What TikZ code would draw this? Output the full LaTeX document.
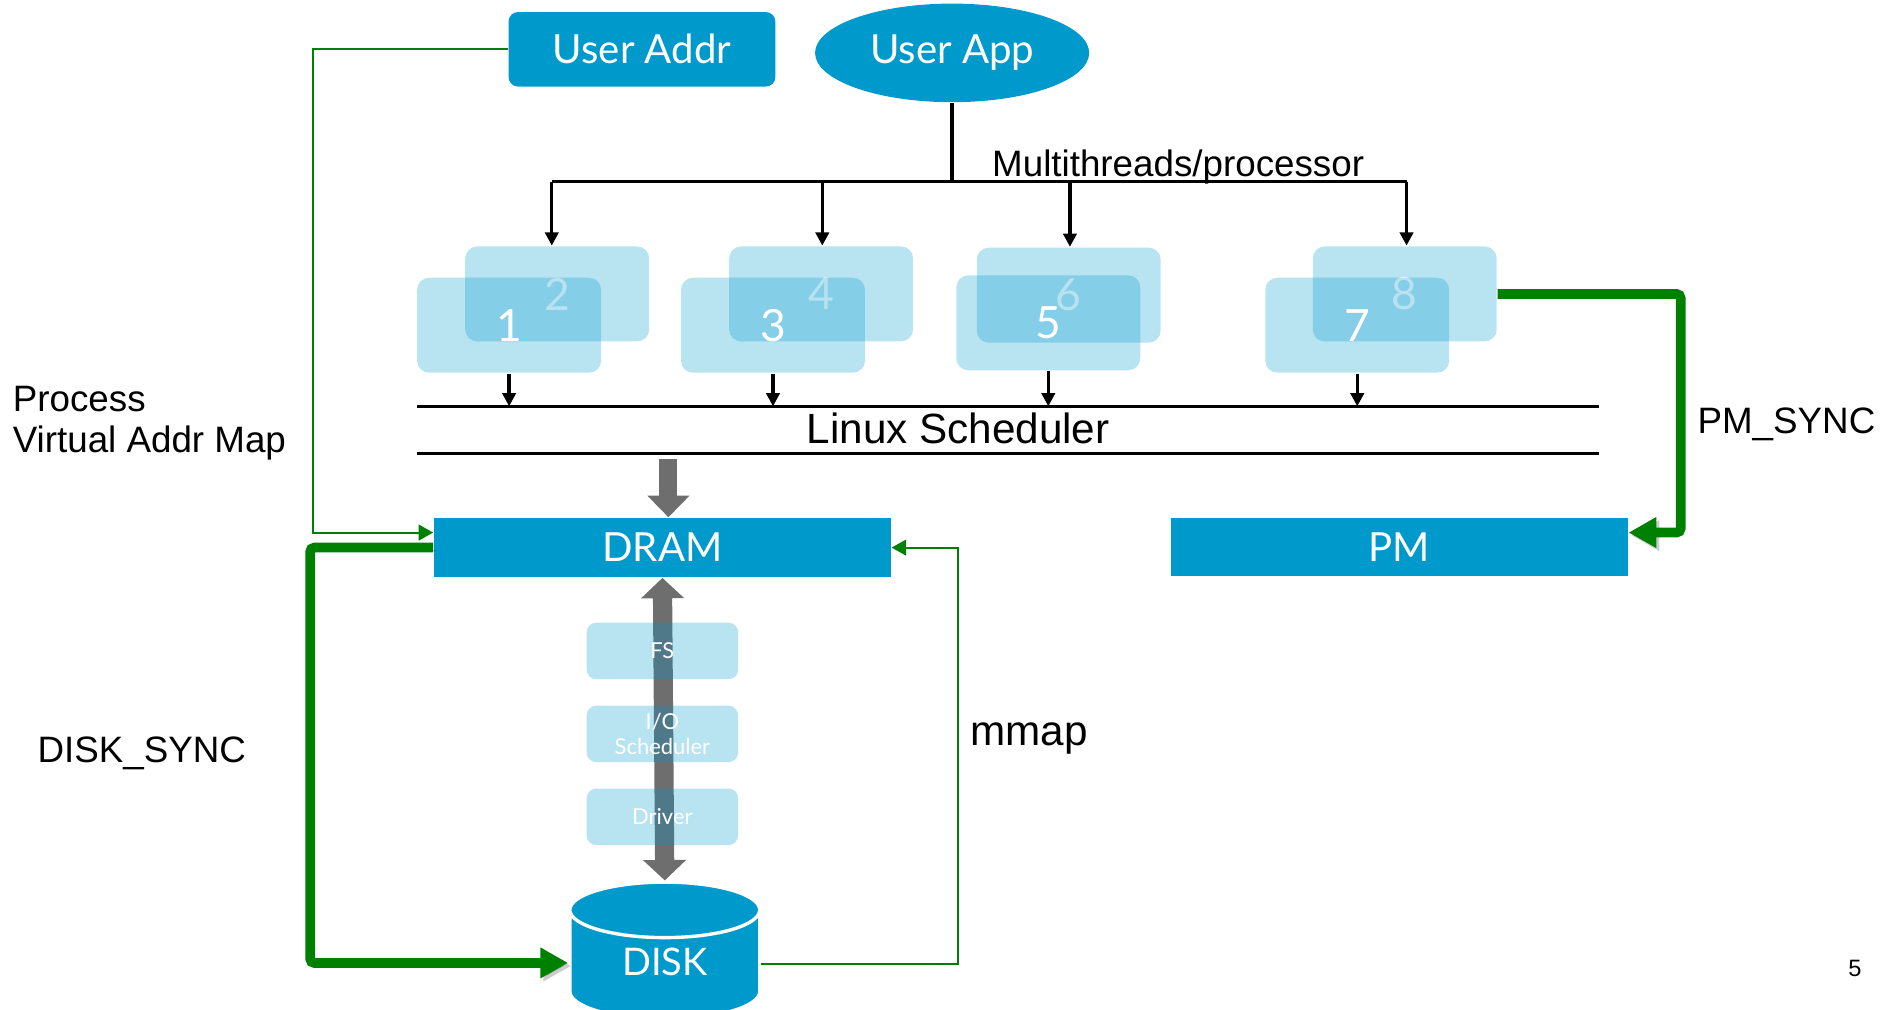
\documentclass[tikz,border=0pt]{standalone}
\usepackage{fontspec}
\setmainfont{Liberation Sans}
\newfontfamily\gillfont{Lato}
\usetikzlibrary{arrows.meta,positioning,shapes.geometric}
\definecolor{slideblue}{RGB}{0,153,204}
\definecolor{linkgreen}{RGB}{0,128,0}
\definecolor{pipegray}{RGB}{110,110,110}

\begin{document}
\begin{tikzpicture}[
  every node/.style={font=\fontsize{8.7}{9.8}\selectfont},
  bluebox/.style={
    fill=slideblue,
    text=white,
    inner sep=0pt,
    font=\gillfont\fontsize{9.5}{11}\selectfont
  },
  thread/.style={
    fill=slideblue,
    fill opacity=0.28,
    text opacity=1,
    text=white,
    rounded corners=0.1cm,
    minimum width=1.53cm,
    minimum height=0.79cm,
    inner sep=0pt,
    font=\gillfont\fontsize{10.5}{12}\selectfont
  },
  layer/.style={
    fill=slideblue,
    fill opacity=0.28,
    text opacity=1,
    text=white,
    rounded corners=0.08cm,
    minimum width=1.26cm,
    minimum height=0.47cm,
    inner sep=0pt,
    align=center,
    font=\gillfont\fontsize{5.2}{6}\selectfont
  },
  bus/.style={line width=0.8pt},
  down/.style={-{Triangle[length=1.1mm,width=1.1mm]},line width=0.8pt},
  pipe/.style={pipegray,line width=0.15cm,-{Triangle[length=0.18cm,width=0.34cm]}},
  link/.style={linkgreen,line width=0.5pt,-{Triangle[length=1.2mm,width=1.3mm]}},
  sync/.style={
    linkgreen,
    line width=2.3pt,
    rounded corners=1pt,
    -{Triangle[length=2.3mm,width=2.4mm]},
    preaction={draw=black,opacity=0.2,transform canvas={shift={(0.025,-0.025)}}}
  }
]
\useasboundingbox (0,0) rectangle (15.68,-8.40);

% top: address and application
\node[bluebox,rounded corners=0.08cm,minimum width=2.22cm,minimum height=0.62cm] (useraddr) at (5.34,-0.41) {User Addr};
\node[bluebox,ellipse,minimum width=2.28cm,minimum height=0.82cm] (userapp) at (7.92,-0.44) {User App};

% threads
\coordinate (b1) at (4.59,-1.51);
\coordinate (b2) at (6.84,-1.51);
\coordinate (b3) at (8.90,-1.51);
\coordinate (b4) at (11.70,-1.51);
\node (mt) at (9.80,-1.39) {Multithreads/processor};
\node[thread] (t2) at (4.635,-2.445) {2};
\node[thread] (t1) at (4.235,-2.705) {1};
\node[thread] (t4) at (6.83,-2.445) {4};
\node[thread] (t3) at (6.43,-2.705) {3};
\node[thread] (t6) at (8.89,-2.455) {6};
\node[thread] (t5) at (8.72,-2.685) {5};
\node[thread] (t8) at (11.685,-2.445) {8};
\node[thread] (t7) at (11.29,-2.705) {7};
\draw[bus] (userapp.south) -- (userapp.south |- b1);
\draw[bus] (b1) -- (b4);
\draw[down] (b1) -- (b1 |- t2.north);
\draw[down] (b2) -- (b2 |- t4.north);
\draw[down] (b3) -- (b3 |- t6.north);
\draw[down] (b4) -- (b4 |- t8.north);

% scheduler
\coordinate (sl) at (3.47,-3.38);
\coordinate (sr) at (13.30,-3.38);
\draw[bus] (sl) -- (sr);
\draw[bus] (3.47,-3.77) -- (13.30,-3.77);
\node[font=\fontsize{10}{12}\selectfont] (sched) at (7.97,-3.56) {Linux Scheduler};
\draw[down] (t1.south) -- (t1.south |- sl);
\draw[down] (t3.south) -- (t3.south |- sl);
\draw[down] (t5.south) -- (t5.south |- sl);
\draw[down] (t7.south) -- (t7.south |- sl);

% memory
\node[bluebox,minimum width=3.80cm,minimum height=0.49cm] (dram) at (5.51,-4.555) {DRAM};
\node[bluebox,minimum width=3.80cm,minimum height=0.48cm] (pm) at (11.64,-4.55) {PM};
\node[bluebox,cylinder,shape border rotate=90,aspect=0.65,draw=white,line width=0.8pt,
  minimum width=1.58cm,minimum height=1.14cm,font=\gillfont\fontsize{9}{11}\selectfont] (disk) at (5.53,-8.03) {\raisebox{0.6mm}{DISK}};
\coordinate (gtop) at (5.56,-3.82);
\draw[pipe] (gtop) -- (gtop |- dram.north);
\draw[pipe,line width=0.16cm,{Triangle[length=0.17cm,width=0.35cm]}-{Triangle[length=0.17cm,width=0.35cm]}] (dram.south) -- (disk.north);
\node[layer] (fs) at (5.51,-5.415) {FS};
\node[layer] (iosched) at (5.51,-6.105) {I/O\\Scheduler};
\node[layer] (driver) at (5.51,-6.795) {Driver};

% green links
\coordinate (ua) at (2.60,-4.43);
\coordinate (ds) at (2.58,-8.01);
\coordinate (mm) at (7.97,-8.02);
\coordinate (ps) at (13.98,-4.43);
\draw[link] (useraddr.west) -| (ua) -- (ua -| dram.west);
\draw[sync] (dram.west) -| (ds) -- (ds -| disk.west);
\draw[link] (disk.east |- mm) -- (mm) |- (dram.east);
\draw[sync] (t8.east) -| (ps) -- (ps -| pm.east);

% labels
\node[align=left,anchor=west,inner sep=0pt] (vmap) at (0.10,-3.52) {Process\\Virtual Addr Map};
\node (disksync) at (1.18,-6.27) {DISK\_SYNC};
\node[font=\fontsize{10}{12}\selectfont] (mmap) at (8.56,-6.14) {mmap};
\node (pmsync) at (14.86,-3.53) {PM\_SYNC};
\node[font=\fontsize{5.6}{7}\selectfont] (page) at (15.43,-8.06) {5};
\end{tikzpicture}
\end{document}
